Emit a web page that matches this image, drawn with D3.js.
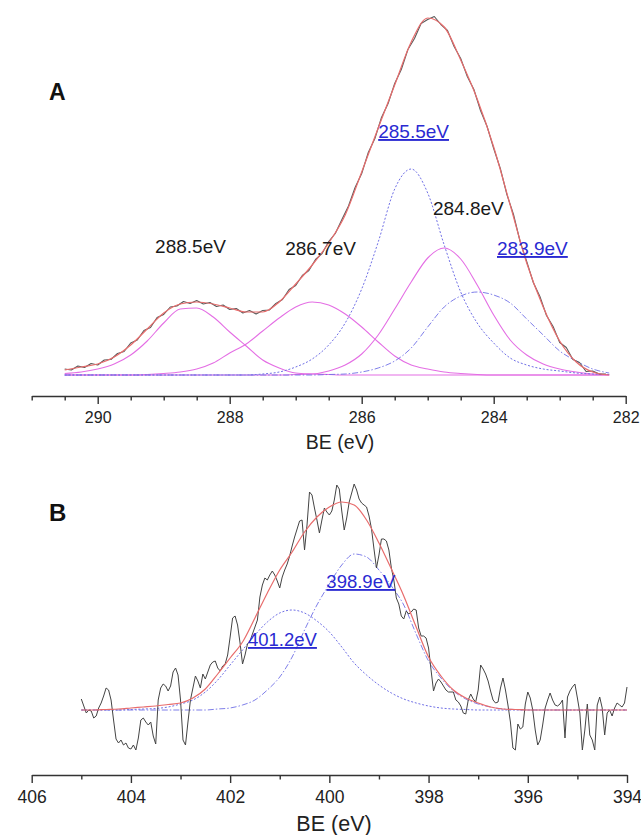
<!DOCTYPE html>
<html><head><meta charset="utf-8">
<script src="https://cdn.jsdelivr.net/npm/d3@7"></script>
<style>
html,body{margin:0;padding:0;background:#fff;}
svg{display:block;font-family:"Liberation Sans",Arial,Helvetica,sans-serif;}
</style></head><body>
<svg id="chart" width="641" height="835"></svg>
<script>
// ---------- Panel A (C 1s) ----------
const aFitBE = [290.5,290.25,290,289.75,289.5,289.25,289,288.75,288.5,288.25,288,287.75,287.5,287.25,287,286.75,286.5,286.25,286,285.75,285.5,285.25,285,284.75,284.5,284.25,284,283.75,283.5,283.25,283,282.75,282.5,282.25];
const aEnvelope = [5,8,11,18,30,46,62,71,73,71,67,63,63,73,91,110,132,160,203,247,290,333,357,348,315,276,228,170,112,68,34,13,3,0];
const aPeak2885 = [1.5,3,6,11,20,34,52,66,67,58,43,29,15,7,2,1,0.5,0,0,0,0,0,0,0,0,0,0,0,0,0,0,0,0,0];
const aPeak2867 = [0,0,0,0,0,0.5,1.5,3,6,12,22,31,44,57,68,73,70,61,48,33,19,10,6,3,1.5,0.5,0,0,0,0,0,0,0,0];
const aPeak2855 = [0,0,0,0,0,0,0,0,0,0,0,0,1,3,8,16,30,52,86,133,186,206,182,130,83,52,32,17,10,6,4,2,1,0.5];
const aPeak2848 = [0,0,0,0,0,0,0,0,0,0,0,0,0,0,0.5,1,4,10,21,40,66,93,117,127,116,90,60,35,20,11,6,3,1,0.5];
const aPeak2839 = [0,0,0,0,0,0,0,0,0,0,0,0,0,0,0,0,0.5,1,3,7,14,27,48,68,79,83,80,72,56,40,24,14,6,2];
// measured spectrum, sampled every 0.1 eV from 290.5 eV
const aRawStart = 290.5, aRawStep = 0.1;
const aRaw = [6,5,9,7.5,11.5,10,15,15.5,21.5,23.5,
32,35,44.5,47.5,57.5,60.5,68,69,73.5,71.5,
74.5,71,72.5,68.5,70,65.5,66.5,62,64.5,61,
64.5,65,71.5,75.5,85.5,89.5,99.5,104.5,115.5,121.5,
133.5,141.5,155.5,169,187.5,201.5,222.5,236.5,257.5,271.5,
291.5,305.5,325.5,336.5,351.5,355.5,358.5,350.5,344.5,328.5,
316.5,298.5,285.5,264.5,248.5,226.5,206.5,180.5,160.5,133.5,
113.5,92.5,78.5,59.5,48.5,32.5,27.5,15.5,12.5,3.5,
4,1,1];
const aMajorTicks = [290,288,286,284,282];
const aMinorTicks = [291,290.5,289.5,289,288.5,287.5,287,286.5,285.5,285,284.5,283.5,283,282.5];

// ---------- Panel B (N 1s) ----------
const bFitBE = [405,404.75,404.5,404.25,404,403.75,403.5,403.25,403,402.75,402.5,402.25,402,401.75,401.5,401.25,401,400.75,400.5,400.25,400,399.75,399.5,399.25,399,398.75,398.5,398.25,398,397.75,397.5,397.25,397,396.75,396.5,396.25,396,395.75,395.5,395.25,395,394.75,394.5,394.25,394];
const bEnvelope = [0,0,0.5,1,2,3,4,5.5,7,12,21,36,52,68,92,117,140,158,178,193,203,208,205,190,167,141,114,83,53,34,20,12,7,3,1,0.5,0,0,0,0,0,0,0,0,0];
const bPeak4012 = [0,0,0,0,0.5,1,1.5,3,6,10,18,30,45,60,75,88,97,100,97,89,78,63,47,35,25,17,11,7,4,2,1,0.5,0,0,0,0,0,0,0,0,0,0,0,0,0];
const bPeak3989 = [0,0,0,0,0,0,0,0,0,0,0,1,2,5,10,20,33,53,80,105,126,145,156,153,140,124,105,76,49,32,19,11,6,3,1,0.5,0,0,0,0,0,0,0,0,0];
// measured spectrum, sampled every 0.05 eV from 405 eV
const bRawStart = 405, bRawStep = 0.05;
const bRaw = [11,4,-3,0,-1,-8,-6,2,7,14,
22,20,10,-10,-29,-33,-30,-35,-33,-38,
-39,-35,-40,-28,-10,-8,-12,-15,-12,-26,
-34,10,22,26,24,19,24,38,42,35,
10,-30,-35,-12,10,22,34,29,22,36,
31,38,45,48,49,42,39,44,46,55,
73,92,94,85,67,46,55,66,69,76,
83,90,113,125,132,130,135,139,135,129,
122,133,140,146,154,164,173,181,189,190,
160,185,218,215,202,190,177,190,202,198,
195,199,210,225,221,199,180,192,208,217,
226,220,211,207,205,203,194,181,161,142,
155,171,171,169,160,142,130,112,106,94,
91,99,96,98,101,100,82,74,74,72,
62,40,19,27,31,28,24,20,18,18,
18,10,8,4,-3,-4,10,16,11,8,
20,45,41,36,29,19,10,7,8,22,
32,20,5,-12,-38,-40,-14,-19,-17,6,
18,12,0,-20,-35,-30,-15,2,10,17,
10,5,4,6,10,-28,13,19,23,26,
12,-3,-40,-20,6,-25,-30,-40,5,13,
2,-25,-3,0,-6,2,7,5,3,7,
23];
const bMajorTicks = [406,404,402,400,398,396,394];
const bMinorTicks = [405,403,401,399,397,395];

// ---------- annotations (text + anchor in data units) ----------
const aLabels = [
  {text:"288.5eV", be:289.13, v:122, blue:false},
  {text:"286.7eV", be:287.16, v:120, blue:false},
  {text:"285.5eV", be:285.75, v:237, blue:true},
  {text:"284.8eV", be:284.92, v:160, blue:false},
  {text:"283.9eV", be:283.95, v:120, blue:true}
];
const bLabels = [
  {text:"401.2eV", be:401.64, v:64, blue:true},
  {text:"398.9eV", be:400.06, v:122, blue:true}
];

// ---------- styles ----------
const C = {rawA:"#5a5a5a", rawB:"#444", fit:"#e86c6c", mag:"#e46ee4", blue:"#7070e6", lblBlue:"#2a2ad2", axis:"#333"};

const svg = d3.select("#chart");
svg.append("rect").attr("width",641).attr("height",835).attr("fill","#fff");

function panel(cfg){
  const g = svg.append("g");
  const x = cfg.x, y = cfg.y;
  const smooth = d3.line().x(d=>x(d[0])).y(d=>y(d[1])).curve(d3.curveMonotoneX);
  const jag = d3.line().x(d=>x(d[0])).y(d=>y(d[1]));
  // components
  cfg.comps.forEach(c=>{
    g.append("path").datum(cfg.fitBE.map((b,i)=>[b,c.vals[i]]))
      .attr("d",smooth).attr("fill","none").attr("stroke",c.color)
      .attr("stroke-width",c.w||1.1).attr("stroke-dasharray",c.dash||null);
  });
  // raw
  const rawPts = cfg.raw.map((v,i)=>[+(cfg.rawStart - i*cfg.rawStep).toFixed(3), v]);
  g.append("path").datum(rawPts).attr("d",jag).attr("fill","none")
    .attr("stroke",cfg.rawColor).attr("stroke-width",cfg.rawW).attr("stroke-linejoin","round");
  // envelope
  g.append("path").datum(cfg.fitBE.map((b,i)=>[b,cfg.env[i]]))
    .attr("d",smooth).attr("fill","none").attr("stroke",C.fit).attr("stroke-width",1.2);
  // axis
  const ax = g.append("g").attr("transform",`translate(0,${cfg.axisY})`);
  ax.call(d3.axisBottom(x).tickValues(cfg.major).tickSize(8).tickSizeOuter(0)
      .tickPadding(cfg.pad).tickFormat(d3.format("d")));
  ax.select(".domain").attr("stroke",C.axis).attr("stroke-width",1.6);
  ax.selectAll(".tick line").attr("stroke",C.axis).attr("stroke-width",1.4);
  ax.selectAll(".tick text").attr("fill","#222").attr("font-size",cfg.tickFont)
    .attr("font-family","'Liberation Sans',Arial,sans-serif");
  const mn = g.append("g").attr("transform",`translate(0,${cfg.axisY})`);
  mn.call(d3.axisBottom(x).tickValues(cfg.minor).tickSize(4.5).tickSizeOuter(0).tickFormat(""));
  mn.select(".domain").remove();
  mn.selectAll(".tick line").attr("stroke",C.axis).attr("stroke-width",1.4);
  // axis title
  g.append("text").attr("x",cfg.titleX).attr("y",cfg.titleY).attr("text-anchor","middle")
    .attr("font-size",cfg.titleFont).attr("fill","#222").text("BE (eV)");
  // panel letter
  g.append("text").attr("x",49).attr("y",cfg.letterY).attr("font-size",cfg.letterFont)
    .attr("font-weight","bold").attr("fill","#111").text(cfg.letter);
  // peak labels
  cfg.labels.forEach(l=>{
    g.append("text").attr("x",x(l.be)).attr("y",y(l.v)).attr("font-size",cfg.lblFont)
      .attr("fill",l.blue?C.lblBlue:"#1a1a1a")
      .style("text-decoration",l.blue?"underline":"none").text(l.text);
  });
}

panel({
  x: d3.scaleLinear().domain([291,282]).range([31.7,625.7]),
  y: d3.scaleLinear().domain([0,357]).range([375,18]),
  fitBE:aFitBE, env:aEnvelope, raw:aRaw, rawStart:aRawStart, rawStep:aRawStep, rawW:1.1, rawColor:C.rawA,
  comps:[
    {vals:aPeak2885, color:C.mag},
    {vals:aPeak2867, color:C.mag},
    {vals:aPeak2848, color:C.mag},
    {vals:aPeak2855, color:C.blue, dash:"2,1.8", w:1},
    {vals:aPeak2839, color:C.blue, dash:"6,2,1.5,2", w:0.9}
  ],
  axisY:396, major:aMajorTicks, minor:aMinorTicks, pad:7.6, tickFont:16,
  titleX:340, titleY:449, titleFont:19.5,
  letter:"A", letterY:99.5, letterFont:23,
  labels:aLabels, lblFont:19
});

panel({
  x: d3.scaleLinear().domain([406,394]).range([31.7,627]),
  y: d3.scaleLinear().domain([0,208]).range([710,502]),
  fitBE:bFitBE, env:bEnvelope, raw:bRaw, rawStart:bRawStart, rawStep:bRawStep, rawW:1, rawColor:C.rawB,
  comps:[
    {vals:bPeak4012, color:C.blue, dash:"2,1.8", w:1},
    {vals:bPeak3989, color:C.blue, dash:"6,2,1.5,2", w:0.9}
  ],
  axisY:775, major:bMajorTicks, minor:bMinorTicks, pad:7.6, tickFont:17.5,
  titleX:334, titleY:831, titleFont:21.5,
  letter:"B", letterY:521, letterFont:24,
  labels:bLabels, lblFont:18.5
});
</script>
</body></html>
